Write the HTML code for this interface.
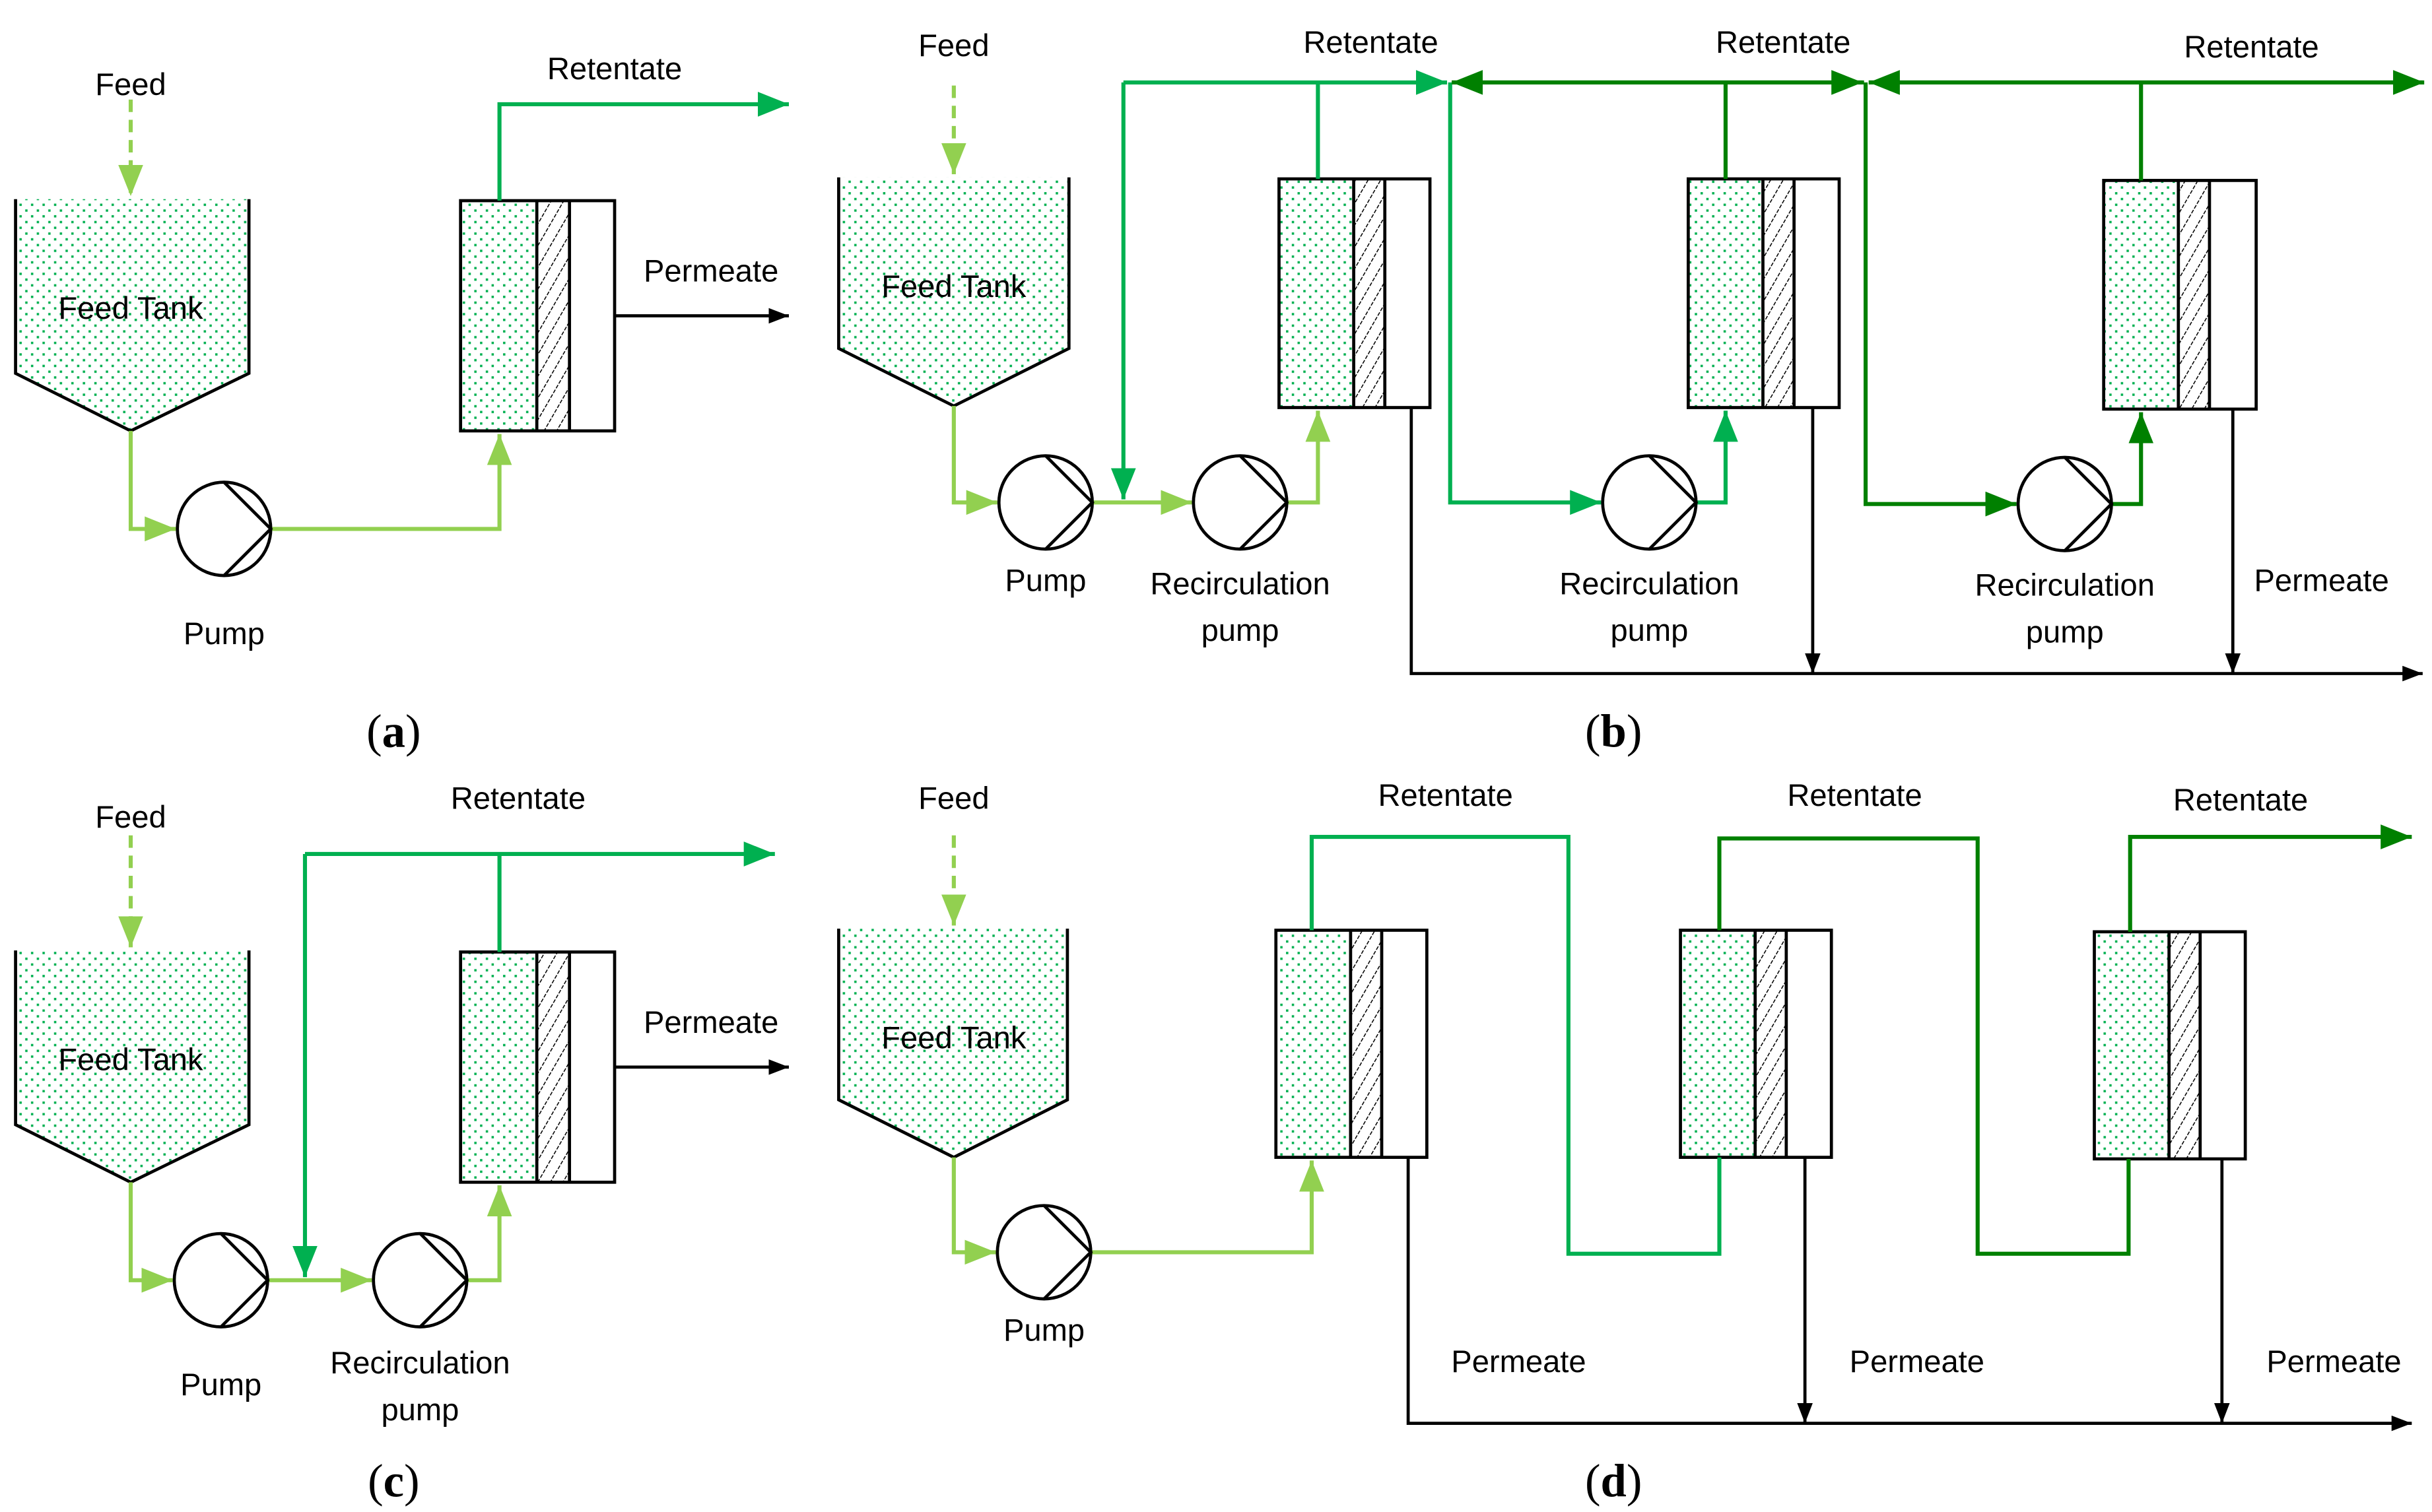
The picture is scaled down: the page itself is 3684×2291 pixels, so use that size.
<!DOCTYPE html>
<html><head><meta charset="utf-8"><style>
html,body{margin:0;padding:0;background:#fff}
svg{display:block}
text{font-family:"Liberation Sans",sans-serif;font-size:20px;fill:#000;text-anchor:middle}
.lab{font-family:"Liberation Serif",serif;font-size:30px}
.lg{stroke:#92D050;stroke-width:2.6;fill:none}
.mg{stroke:#00B050;stroke-width:2.6;fill:none}
.dg{stroke:#008000;stroke-width:2.6;fill:none}
.bk{stroke:#000;stroke-width:2;fill:none}
</style></head><body>
<svg width="3684" height="2291" viewBox="0 0 1563 972" xmlns="http://www.w3.org/2000/svg">
<defs>
<pattern id="dots" width="7.4" height="7.4" patternUnits="userSpaceOnUse">
<rect x="1.4" y="1.4" width="1.5" height="1.5" fill="#00B050"/>
<rect x="5.1" y="5.1" width="1.5" height="1.5" fill="#00B050"/>
</pattern>
<pattern id="hatch" width="7" height="7" patternUnits="userSpaceOnUse" patternTransform="rotate(30)">
<line x1="0" y1="0" x2="0" y2="7" stroke="#000" stroke-width="1.3" stroke-dasharray="2.5 1"/>
</pattern>
<marker id="aL" markerUnits="userSpaceOnUse" markerWidth="24" markerHeight="18" refX="20" refY="8" orient="auto"><path d="M0,0 L20,8 L0,16z" fill="#92D050"/></marker>
<marker id="aM" markerUnits="userSpaceOnUse" markerWidth="24" markerHeight="18" refX="20" refY="8" orient="auto"><path d="M0,0 L20,8 L0,16z" fill="#00B050"/></marker>
<marker id="aD" markerUnits="userSpaceOnUse" markerWidth="24" markerHeight="18" refX="20" refY="8" orient="auto"><path d="M0,0 L20,8 L0,16z" fill="#008000"/></marker>
<marker id="aK" markerUnits="userSpaceOnUse" markerWidth="16" markerHeight="12" refX="13" refY="5" orient="auto"><path d="M0,0 L13,5 L0,10z" fill="#000"/></marker>
</defs>

<!-- ===== (a) ===== -->
<path d="M10,128 V240 L84,277 L160,240 V128" fill="url(#dots)" stroke="#000" stroke-width="2"/>
<g><rect x="296" y="129" width="49" height="148" fill="url(#dots)"/><rect x="345" y="129" width="21" height="148" fill="url(#hatch)"/><rect x="296" y="129" width="99" height="148" class="bk"/><line x1="345" y1="129" x2="345" y2="277" class="bk"/><line x1="366" y1="129" x2="366" y2="277" class="bk"/></g>
<path d="M84,64 V126" class="lg" stroke-dasharray="8 5" marker-end="url(#aL)"/>
<path d="M84,277 V340 H113" class="lg" marker-end="url(#aL)"/>
<path d="M174,340 H321 V279" class="lg" marker-end="url(#aL)"/>
<path d="M321,129 V67 H507" class="mg" marker-end="url(#aM)"/>
<path d="M395,203 H507" class="bk" marker-end="url(#aK)"/>
<g class="bk"><circle cx="144" cy="340" r="30" fill="#fff"/><path d="M144,310 L174,340 L144,370"/></g>
<text x="84" y="61">Feed</text><text x="84" y="205">Feed Tank</text><text x="395" y="51">Retentate</text><text x="457" y="181">Permeate</text><text x="144" y="414">Pump</text>
<text class="lab" x="253" y="480">(<tspan font-weight="bold">a</tspan>)</text>

<!-- ===== (b) ===== -->
<path d="M539,114 V224 L613,261 L687,224 V114" fill="url(#dots)" stroke="#000" stroke-width="2"/>
<g><rect x="822" y="115" width="48" height="147" fill="url(#dots)"/><rect x="870" y="115" width="20" height="147" fill="url(#hatch)"/><rect x="822" y="115" width="97" height="147" class="bk"/><line x1="870" y1="115" x2="870" y2="262" class="bk"/><line x1="890" y1="115" x2="890" y2="262" class="bk"/></g>
<g><rect x="1085" y="115" width="48" height="147" fill="url(#dots)"/><rect x="1133" y="115" width="20" height="147" fill="url(#hatch)"/><rect x="1085" y="115" width="97" height="147" class="bk"/><line x1="1133" y1="115" x2="1133" y2="262" class="bk"/><line x1="1153" y1="115" x2="1153" y2="262" class="bk"/></g>
<g><rect x="1352" y="116" width="48" height="147" fill="url(#dots)"/><rect x="1400" y="116" width="20" height="147" fill="url(#hatch)"/><rect x="1352" y="116" width="98" height="147" class="bk"/><line x1="1400" y1="116" x2="1400" y2="263" class="bk"/><line x1="1420" y1="116" x2="1420" y2="263" class="bk"/></g>
<path d="M613,55 V112" class="lg" stroke-dasharray="8 5" marker-end="url(#aL)"/>
<path d="M613,261 V323 H641" class="lg" marker-end="url(#aL)"/>
<path d="M702,323 H766" class="lg" marker-end="url(#aL)"/>
<path d="M827,323 H847 V264" class="lg" marker-end="url(#aL)"/>
<path d="M847,115 V53" class="mg"/>
<path d="M722,53 H930" class="mg" marker-end="url(#aM)"/>
<path d="M722,53 V321" class="mg" marker-end="url(#aM)"/>
<path d="M932,53 V323 H1029" class="mg" marker-end="url(#aM)"/>
<path d="M1090,323 H1109 V264" class="mg" marker-end="url(#aM)"/>
<path d="M1109,115 V53" class="dg"/>
<path d="M1198,53 H933" class="dg" marker-end="url(#aD)"/>
<path d="M933,53 H1197" class="dg" marker-end="url(#aD)"/>
<path d="M1199,53 V324 H1296" class="dg" marker-end="url(#aD)"/>
<path d="M1557,53 H1201" class="dg" marker-end="url(#aD)"/>
<path d="M1201,53 H1558" class="dg" marker-end="url(#aD)"/>
<path d="M1376,116 V53" class="dg"/>
<path d="M1357,324 H1376 V265" class="dg" marker-end="url(#aD)"/>
<path d="M907,262 V433 H1557" class="bk" marker-end="url(#aK)"/>
<path d="M1165,262 V433" class="bk" marker-end="url(#aK)"/>
<path d="M1435,263 V433" class="bk" marker-end="url(#aK)"/>
<g class="bk"><circle cx="672" cy="323" r="30" fill="#fff"/><path d="M672,293 L702,323 L672,353"/></g>
<g class="bk"><circle cx="797" cy="323" r="30" fill="#fff"/><path d="M797,293 L827,323 L797,353"/></g>
<g class="bk"><circle cx="1060" cy="323" r="30" fill="#fff"/><path d="M1060,293 L1090,323 L1060,353"/></g>
<g class="bk"><circle cx="1327" cy="324" r="30" fill="#fff"/><path d="M1327,294 L1357,324 L1327,354"/></g>
<text x="613" y="36">Feed</text><text x="613" y="191">Feed Tank</text>
<text x="881" y="34">Retentate</text><text x="1146" y="34">Retentate</text><text x="1447" y="37">Retentate</text>
<text x="672" y="380">Pump</text>
<text x="797" y="382">Recirculation</text><text x="797" y="412">pump</text>
<text x="1060" y="382">Recirculation</text><text x="1060" y="412">pump</text>
<text x="1327" y="383">Recirculation</text><text x="1327" y="413">pump</text>
<text x="1492" y="380">Permeate</text>
<text class="lab" x="1037" y="480">(<tspan font-weight="bold">b</tspan>)</text>

<!-- ===== (c) ===== -->
<path d="M10,611 V723 L84,760 L160,723 V611" fill="url(#dots)" stroke="#000" stroke-width="2"/>
<g><rect x="296" y="612" width="49" height="148" fill="url(#dots)"/><rect x="345" y="612" width="21" height="148" fill="url(#hatch)"/><rect x="296" y="612" width="99" height="148" class="bk"/><line x1="345" y1="612" x2="345" y2="760" class="bk"/><line x1="366" y1="612" x2="366" y2="760" class="bk"/></g>
<path d="M84,537 V609" class="lg" stroke-dasharray="8 5" marker-end="url(#aL)"/>
<path d="M84,760 V823 H111" class="lg" marker-end="url(#aL)"/>
<path d="M172,823 H239" class="lg" marker-end="url(#aL)"/>
<path d="M300,823 H321 V762" class="lg" marker-end="url(#aL)"/>
<path d="M196,549 H498" class="mg" marker-end="url(#aM)"/>
<path d="M196,549 V821" class="mg" marker-end="url(#aM)"/>
<path d="M321,612 V549" class="mg"/>
<path d="M395,686 H507" class="bk" marker-end="url(#aK)"/>
<g class="bk"><circle cx="142" cy="823" r="30" fill="#fff"/><path d="M142,793 L172,823 L142,853"/></g>
<g class="bk"><circle cx="270" cy="823" r="30" fill="#fff"/><path d="M270,793 L300,823 L270,853"/></g>
<text x="84" y="532">Feed</text><text x="84" y="688">Feed Tank</text><text x="333" y="520">Retentate</text><text x="457" y="664">Permeate</text>
<text x="142" y="897">Pump</text><text x="270" y="883">Recirculation</text><text x="270" y="913">pump</text>
<text class="lab" x="253" y="962">(<tspan font-weight="bold">c</tspan>)</text>

<!-- ===== (d) ===== -->
<path d="M539,597 V707 L613,744 L686,707 V597" fill="url(#dots)" stroke="#000" stroke-width="2"/>
<g><rect x="820" y="598" width="48" height="146" fill="url(#dots)"/><rect x="868" y="598" width="20" height="146" fill="url(#hatch)"/><rect x="820" y="598" width="97" height="146" class="bk"/><line x1="868" y1="598" x2="868" y2="744" class="bk"/><line x1="888" y1="598" x2="888" y2="744" class="bk"/></g>
<g><rect x="1080" y="598" width="48" height="146" fill="url(#dots)"/><rect x="1128" y="598" width="20" height="146" fill="url(#hatch)"/><rect x="1080" y="598" width="97" height="146" class="bk"/><line x1="1128" y1="598" x2="1128" y2="744" class="bk"/><line x1="1148" y1="598" x2="1148" y2="744" class="bk"/></g>
<g><rect x="1346" y="599" width="48" height="146" fill="url(#dots)"/><rect x="1394" y="599" width="20" height="146" fill="url(#hatch)"/><rect x="1346" y="599" width="97" height="146" class="bk"/><line x1="1394" y1="599" x2="1394" y2="745" class="bk"/><line x1="1414" y1="599" x2="1414" y2="745" class="bk"/></g>
<path d="M613,537 V595" class="lg" stroke-dasharray="8 5" marker-end="url(#aL)"/>
<path d="M613,744 V805 H640" class="lg" marker-end="url(#aL)"/>
<path d="M701,805 H843 V746" class="lg" marker-end="url(#aL)"/>
<path d="M843,598 V538 H1008 V806 H1105 V744" class="mg"/>
<path d="M1105,598 V539 H1271 V806 H1368 V745" class="dg"/>
<path d="M1369,599 V538 H1550" class="dg" marker-end="url(#aD)"/>
<path d="M905,744 V915 H1550" class="bk" marker-end="url(#aK)"/>
<path d="M1160,744 V915" class="bk" marker-end="url(#aK)"/>
<path d="M1428,745 V915" class="bk" marker-end="url(#aK)"/>
<g class="bk"><circle cx="671" cy="805" r="30" fill="#fff"/><path d="M671,775 L701,805 L671,835"/></g>
<text x="613" y="520">Feed</text><text x="613" y="674">Feed Tank</text>
<text x="929" y="518">Retentate</text><text x="1192" y="518">Retentate</text><text x="1440" y="521">Retentate</text>
<text x="976" y="882">Permeate</text><text x="1232" y="882">Permeate</text><text x="1500" y="882">Permeate</text>
<text x="671" y="862">Pump</text>
<text class="lab" x="1037" y="962">(<tspan font-weight="bold">d</tspan>)</text>
</svg>
</body></html>
